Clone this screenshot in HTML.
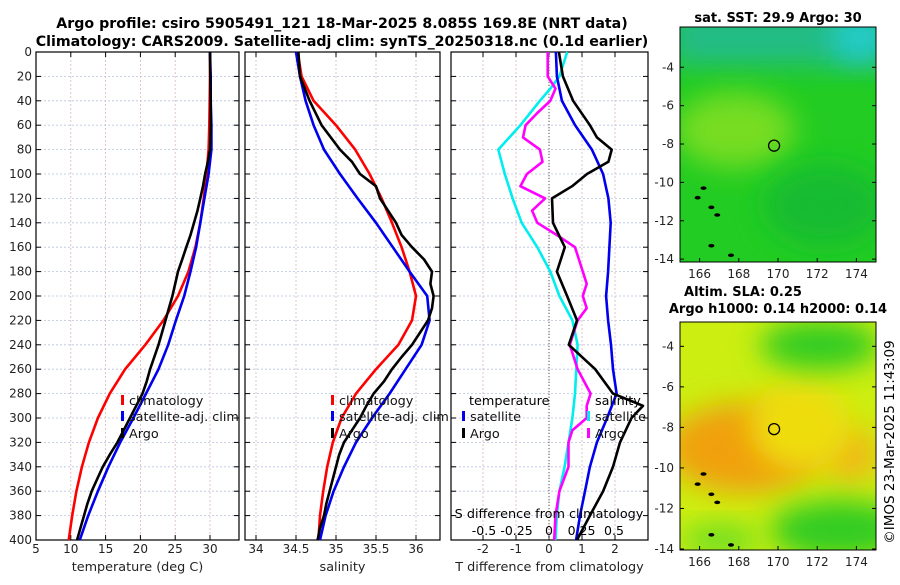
<!DOCTYPE html>
<html><head><meta charset="utf-8"><style>
body{margin:0;background:#fff;width:900px;height:580px;overflow:hidden}
svg{font-family:"DejaVu Sans","Liberation Sans",sans-serif}
</style></head><body>
<svg id="chart" width="900" height="580" viewBox="0 0 900 580" xmlns="http://www.w3.org/2000/svg">
<defs>
<filter id="bl" x="-50%" y="-50%" width="200%" height="200%"><feGaussianBlur stdDeviation="14"/></filter>
<clipPath id="c1"><rect x="680" y="27" width="196" height="235"/></clipPath>
<clipPath id="c2"><rect x="680" y="322" width="196" height="228"/></clipPath>
</defs>
<text x="342" y="28" font-size="14.2" font-weight="bold" text-anchor="middle">Argo profile: csiro 5905491_121 18-Mar-2025 8.085S 169.8E (NRT data)</text>
<text x="342" y="46" font-size="14.2" font-weight="bold" text-anchor="middle">Climatology: CARS2009. Satellite-adj clim: synTS_20250318.nc (0.1d earlier)</text>
<g id="panels"></g>
<g clip-path="url(#c1)">
<rect x="680" y="27" width="196" height="235" fill="#22cc22"/>
<rect x="670" y="10" width="220" height="55" fill="#22bb88" filter="url(#bl)"/>
<rect x="835" y="15" width="50" height="45" fill="#22cccc" filter="url(#bl)"/>
<ellipse cx="735" cy="130" rx="60" ry="38" fill="#77dd22" filter="url(#bl)"/>
<ellipse cx="825" cy="205" rx="60" ry="40" fill="#18bb30" filter="url(#bl)"/>
</g>
<g clip-path="url(#c2)">
<rect x="680" y="322" width="196" height="228" fill="#ccee11"/>
<ellipse cx="745" cy="448" rx="80" ry="45" fill="#f0a010" filter="url(#bl)"/>
<ellipse cx="850" cy="455" rx="28" ry="28" fill="#f0b818" filter="url(#bl)"/>
<ellipse cx="800" cy="425" rx="50" ry="45" fill="#eedd10" filter="url(#bl)"/>
<ellipse cx="820" cy="345" rx="60" ry="25" fill="#33cc22" filter="url(#bl)"/>
<ellipse cx="840" cy="530" rx="70" ry="30" fill="#33cc22" filter="url(#bl)"/>
<ellipse cx="720" cy="540" rx="40" ry="15" fill="#66dd22" filter="url(#bl)"/>
</g>
<g id="maps"></g>
<text x="778" y="22" font-size="13" font-weight="bold" text-anchor="middle">sat. SST: 29.9 Argo: 30</text>
<text x="743" y="296" font-size="13" font-weight="bold" text-anchor="middle">Altim. SLA: 0.25</text>
<text x="778" y="313" font-size="13" font-weight="bold" text-anchor="middle">Argo h1000: 0.14 h2000: 0.14</text>
<text transform="translate(894,442) rotate(-90)" font-size="13.5" text-anchor="middle">©IMOS 23-Mar-2025 11:43:09</text>
</svg>
<script>
const depths=[0,20,40,60,80,100,120,140,160,180,200,220,240,260,280,300,320,340,360,380,400];
const tClim=[30.0,30.0,29.95,29.9,29.8,29.5,29.1,28.6,27.9,26.9,25.4,23.3,20.7,17.8,15.6,13.9,12.6,11.6,10.8,10.2,9.7];
const tSat=[30.0,30.1,30.1,30.2,30.2,29.8,29.2,28.6,28.0,27.2,26.3,25.1,24.0,22.6,20.8,19.0,17.1,15.4,13.9,12.5,11.3];
const argoDepths=[0,20,40,60,80,90,100,110,120,130,140,150,160,170,180,190,200,210,220,230,240,250,260,270,280,290,300,310,320,330,340,350,360,370,380,390,400];
const tArgo=[30.0,30.05,30.1,30.1,30.0,29.7,29.3,29.0,28.6,28.2,27.7,27.2,26.6,26.0,25.4,25.0,24.6,24.1,23.6,23.1,22.6,22.0,21.4,20.9,20.3,19.4,18.5,17.6,16.7,15.6,14.6,13.8,13.0,12.4,11.9,11.4,10.9];
const sClim=[34.52,34.57,34.72,35.0,35.24,35.42,35.57,35.7,35.82,35.92,36.0,35.95,35.78,35.5,35.25,35.07,34.96,34.89,34.84,34.8,34.78];
const sSat=[34.5,34.55,34.62,34.72,34.85,35.05,35.27,35.5,35.71,35.92,36.14,36.17,36.07,35.87,35.67,35.45,35.25,35.1,34.97,34.87,34.8];
const sArgo=[34.53,34.55,34.67,34.82,35.05,35.2,35.3,35.5,35.55,35.65,35.75,35.82,35.95,36.1,36.2,36.18,36.22,36.2,36.15,36.05,35.95,35.82,35.7,35.6,35.47,35.38,35.3,35.2,35.1,35.04,35.0,34.96,34.92,34.88,34.85,34.8,34.77];
const dtSat=[0.21,0.24,0.39,0.79,1.3,1.64,1.8,1.87,1.83,1.79,1.73,1.79,1.88,1.94,2.05,1.76,1.45,1.24,1.09,0.94,0.82];
const dtArgoDepths=[0,20,40,60,70,80,90,100,110,120,140,160,180,200,220,240,260,280,290,300,320,340,360,380,400];
const dtArgo=[0.3,0.42,0.73,1.24,1.45,1.9,1.8,1.15,0.7,0.09,0.12,0.48,0.24,0.55,0.85,0.6,1.4,1.94,2.85,2.5,2.15,1.94,1.64,1.24,0.85];
const dsSatDepths=[0,20,30,40,60,80,100,120,140,160,180,200,220,240,260,280,300,320,340,360,380,400];
const dsSat=[0.14,0.08,0.01,-0.07,-0.22,-0.39,-0.34,-0.28,-0.21,-0.09,0.01,0.08,0.18,0.22,0.21,0.2,0.18,0.15,0.12,0.08,0.06,0.05];
const dsArgoDepths=[0,20,30,40,50,60,70,80,90,100,110,120,130,140,150,160,180,190,200,210,220,240,260,280,290,300,310,320,340,360,380,400];
const dsArgo=[-0.01,-0.01,0.05,0.01,-0.09,-0.18,-0.2,-0.07,-0.05,-0.17,-0.22,-0.03,-0.13,-0.09,0.06,0.2,0.26,0.29,0.26,0.29,0.22,0.16,0.22,0.32,0.29,0.29,0.18,0.15,0.15,0.08,0.05,0.04];
const depthTicks=[0,20,40,60,80,100,120,140,160,180,200,220,240,260,280,300,320,340,360,380,400];
const tTicks=[5,10,15,20,25,30];
const sTicks=[34,34.5,35,35.5,36];
const dtTicks=[-2,-1,0,1,2];
const dsTicks=[-0.5,-0.25,0,0.25,0.5];
const lonTicks=[166,168,170,172,174];
const latTicks=[-4,-6,-8,-10,-12,-14];
const argoLon=169.8, argoLat=-8.085;

const NS='http://www.w3.org/2000/svg';
const root=document.getElementById('panels');
function mk(tag,attrs,parent){const e=document.createElementNS(NS,tag);for(const k in attrs)e.setAttribute(k,attrs[k]);(parent||root).appendChild(e);return e;}
const Y0=52,Y1=540;
const yD=d=>Y0+(d/400)*(Y1-Y0);
function lin(d0,d1,r0,r1){return v=>r0+(v-d0)/(d1-d0)*(r1-r0);}
function line(xs,ds,sx,color,name){const p=xs.map((v,i)=>(i?'L':'M')+sx(v).toFixed(1)+','+yD(ds[i]).toFixed(1)).join('');
 const e=mk('path',{d:p,fill:'none',stroke:color,'stroke-width':2.6,'stroke-linejoin':'round'});
 
 }
function frame(x0,x1,name,ticks,sx,fmt,xlabel,leftLabels){
 const g=mk('g',{});
 
 
 depthTicks.forEach(d=>{mk('line',{x1:x0,x2:x1,y1:yD(d),y2:yD(d),stroke:'#b8c4e0','stroke-width':0.8,'stroke-dasharray':'2,2'},g);
  mk('line',{x1:x0,x2:x0+5,y1:yD(d),y2:yD(d),stroke:'#000'},g);mk('line',{x1:x1-5,x2:x1,y1:yD(d),y2:yD(d),stroke:'#000'},g);
  if(leftLabels){const t=mk('text',{x:x0-4,y:yD(d)+4,'font-size':12,'text-anchor':'end',fill:'#222'},g);t.textContent=d;}});
 ticks.forEach(v=>{const x=sx(v);mk('line',{x1:x,x2:x,y1:Y0,y2:Y1,stroke:'#d8b8b8','stroke-width':0.8,'stroke-dasharray':'2,2'},g);
  mk('line',{x1:x,x2:x,y1:Y1,y2:Y1-5,stroke:'#000'},g);mk('line',{x1:x,x2:x,y1:Y0,y2:Y0+5,stroke:'#000'},g);
  const t=mk('text',{x:x,y:553,'font-size':12,'text-anchor':'middle',fill:'#222'},g);t.textContent=fmt(v);});
 mk('rect',{x:x0,y:Y0,width:x1-x0,height:Y1-Y0,fill:'none',stroke:'#000','stroke-width':1.2},g);
 const l=mk('text',{x:(x0+x1)/2,y:571,'font-size':12.8,'text-anchor':'middle',fill:'#222'},g);l.textContent=xlabel;
 return g;}
function legend(x,y,color,label,name){const r=mk('rect',{x:x,y:y-10,width:3,height:10,fill:color});
 const t=mk('text',{x:x+8,y:y,'font-size':12.8,fill:'#111'});t.textContent=label;
 
 }

const sT=lin(5,30,36,210);
frame(36,239,'temperature-panel',tTicks,sT,v=>v,'temperature (deg C)',true);
line(tClim,depths,sT,'#ff0000','temperature-climatology-line');
line(tSat,depths,sT,'#0000ee','temperature-satellite-line');
line(tArgo,argoDepths,sT,'#000','temperature-argo-line');
legend(121,405,'#f00','climatology','legend-climatology');
legend(121,421,'#00e','satellite-adj. clim','legend-satellite');
legend(121,438,'#000','Argo','legend-argo');
const sS=lin(35,36,336,416);
frame(245,440,'salinity-panel',sTicks,sS,v=>v,'salinity',false);
line(sClim,depths,sS,'#ff0000','salinity-climatology-line');
line(sSat,depths,sS,'#0000ee','salinity-satellite-line');
line(sArgo,argoDepths,sS,'#000','salinity-argo-line');
legend(331,405,'#f00','climatology','legend-s-climatology');
legend(331,421,'#00e','satellite-adj. clim','legend-s-satellite');
legend(331,438,'#000','Argo','legend-s-argo');
const sDT=lin(0,1,549,582), sDS=lin(0,0.5,549,614);
frame(451,648,'difference-panel',dtTicks,sDT,v=>v,'T difference from climatology',false);
mk('line',{x1:549,x2:549,y1:Y0,y2:Y1,stroke:'#555','stroke-width':1,'stroke-dasharray':'1,2'});
line(dsSat,dsSatDepths,sDS,'#00eeee','salinity-diff-satellite-line');
line(dsArgo,dsArgoDepths,sDS,'#ff00ff','salinity-diff-argo-line');
line(dtSat,depths,sDT,'#0000ee','temperature-diff-satellite-line');
line(dtArgo,dtArgoDepths,sDT,'#000','temperature-diff-argo-line');
(()=>{const t=mk('text',{x:469,y:405,'font-size':12.8});t.textContent='temperature';
 const t2=mk('text',{x:595,y:405,'font-size':12.8});t2.textContent='salinity';})();
legend(462,421,'#00e','satellite','legend-dt-satellite');
legend(462,438,'#000','Argo','legend-dt-argo');
legend(587,421,'#0ee','satellite','legend-ds-satellite');
legend(587,438,'#f0f','Argo','legend-ds-argo');
(()=>{const t=mk('text',{x:549,y:518,'font-size':12.8,'text-anchor':'middle'});t.textContent='S difference from climatology';
 dsTicks.forEach(v=>{const x=sDS(v);const l=mk('text',{x:x,y:535,'font-size':12.5,'text-anchor':'middle'});l.textContent=v;});})();

const mroot=document.getElementById('maps');
function map(y0,y1,latTop,latBot,name){
 const g=mk('g',{},mroot);
 
 
 const sx=lin(165,175,680,876), sy=lin(latTop,latBot,y0,y1);
 mk('rect',{x:680,y:y0,width:196,height:y1-y0,fill:'none',stroke:'#000','stroke-width':1},g);
 lonTicks.forEach(v=>{const x=sx(v);mk('line',{x1:x,x2:x,y1:y1,y2:y1-4,stroke:'#000'},g);
  const t=mk('text',{x:x,y:y1+16,'font-size':12,'text-anchor':'middle',fill:'#222'},g);t.textContent=v;});
 latTicks.forEach(v=>{const y=sy(v);mk('line',{x1:876,x2:872,y1:y,y2:y,stroke:'#000'},g);mk('line',{x1:680,x2:684,y1:y,y2:y,stroke:'#000'},g);
  const t=mk('text',{x:674,y:y+4,'font-size':12,'text-anchor':'end',fill:'#222'},g);t.textContent=v;});
 [[165.9,-10.8],[166.6,-11.3],[166.9,-11.7],[166.6,-13.3],[167.6,-13.8],[166.2,-10.3]].forEach(p=>mk('ellipse',{cx:sx(p[0]),cy:sy(p[1]),rx:3,ry:1.8,fill:'#000'},g));
 const c=mk('circle',{cx:sx(argoLon),cy:sy(argoLat),r:5.5,fill:'none',stroke:'#000','stroke-width':1.3},g);
 
 }
map(27,262,-1.9,-14.15,'sst-map-axes');
map(322,550,-2.8,-14.05,'sla-map-axes');
</script>
</body></html>
